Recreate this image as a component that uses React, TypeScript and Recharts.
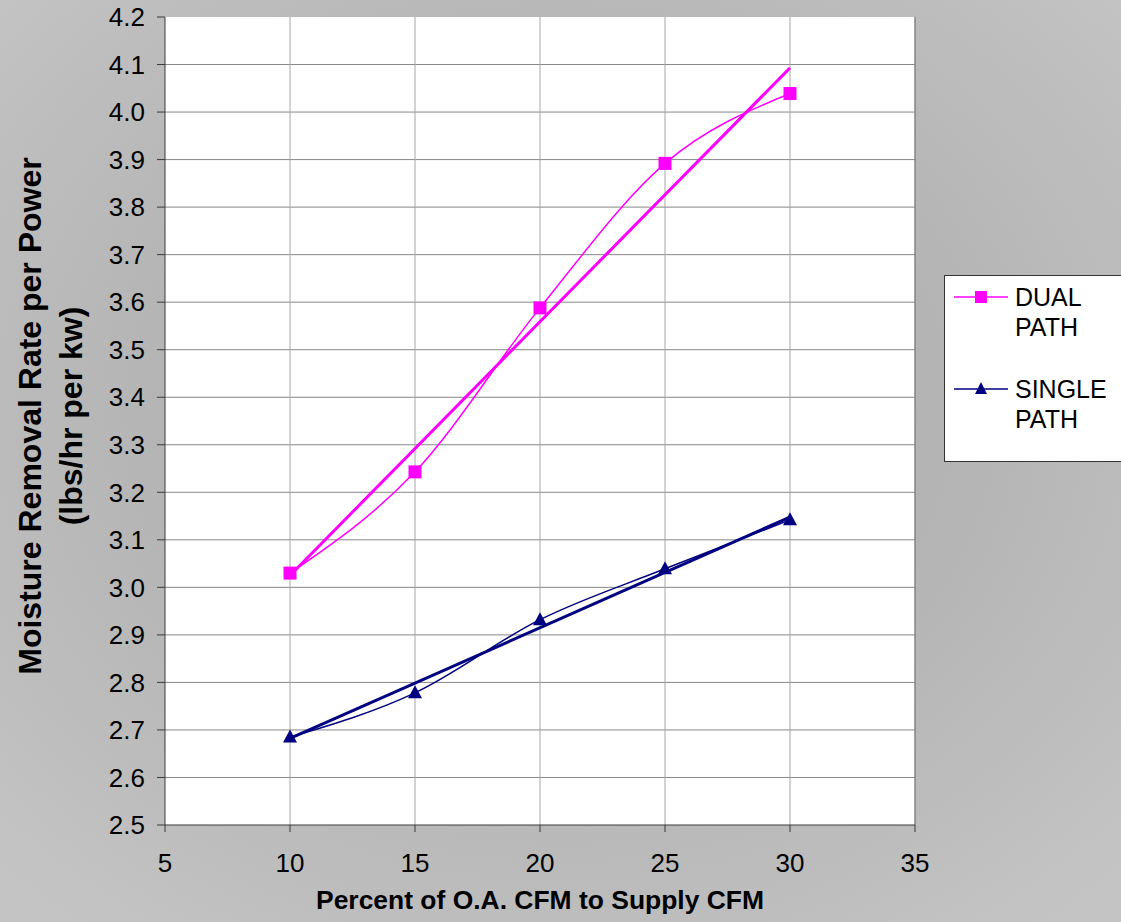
import React from "react";
import {
  LineChart,
  Line,
  XAxis,
  YAxis,
  CartesianGrid,
  ReferenceLine,
  Label,
} from "recharts";

// values
const percentOA = [10, 15, 20, 25, 30];
const dualPath = [3.03, 3.243, 3.588, 3.892, 4.039];
const singlePath = [2.685, 2.778, 2.932, 3.039, 3.142];

// linear trendline end points (x = 10 and x = 30)
const trendX = [10, 30];
const dualTrend = [3.025, 4.093];
const singleTrend = [2.682, 3.148];

const xTicks = [5, 10, 15, 20, 25, 30, 35];
const yTicks = [
  2.5, 2.6, 2.7, 2.8, 2.9, 3.0, 3.1, 3.2, 3.3, 3.4, 3.5, 3.6, 3.7, 3.8, 3.9,
  4.0, 4.1, 4.2,
];
const innerYTicks = yTicks.slice(1, -1);
const innerXTicks = xTicks.slice(1, -1);

const seriesNames = ["DUAL PATH", "SINGLE PATH"];

const MAGENTA = "#FF00FF";
const NAVY = "#000080";
const FONT = "'Liberation Sans', Arial, sans-serif";

const dualData = percentOA.map((x, i) => ({ x, y: dualPath[i] }));
const singleData = percentOA.map((x, i) => ({ x, y: singlePath[i] }));
const dualTrendData = trendX.map((x, i) => ({ x, y: dualTrend[i] }));
const singleTrendData = trendX.map((x, i) => ({ x, y: singleTrend[i] }));

const SquareDot = (props: any) => {
  const { cx, cy, index } = props;
  return (
    <rect key={`sq-${index}`} x={cx - 6.5} y={cy - 6.5} width={13} height={13} fill={MAGENTA} />
  );
};

const TriangleDot = (props: any) => {
  const { cx, cy, index } = props;
  return (
    <path
      key={`tr-${index}`}
      d={`M${cx},${cy - 7.5} L${cx + 7},${cy + 5.5} L${cx - 7},${cy + 5.5} Z`}
      fill={NAVY}
    />
  );
};

const YTitle = (props: any) => {
  const cy = 416;
  return (
    <g>
      <text
        x={30}
        y={cy}
        transform={`rotate(-90 30 ${cy})`}
        textAnchor="middle"
        dominantBaseline="central"
        fontFamily={FONT}
        fontWeight="bold"
        fontSize={32}
        fill="#000"
      >
        Moisture Removal Rate per Power
      </text>
      <text
        x={71}
        y={cy}
        transform={`rotate(-90 71 ${cy})`}
        textAnchor="middle"
        dominantBaseline="central"
        fontFamily={FONT}
        fontWeight="bold"
        fontSize={32}
        fill="#000"
      >
        (lbs/hr per kw)
      </text>
    </g>
  );
};

const XTitle = () => (
  <text
    x={540}
    y={909}
    textAnchor="middle"
    fontFamily={FONT}
    fontWeight="bold"
    fontSize={26}
    textLength={448}
    lengthAdjust="spacingAndGlyphs"
    fill="#000"
  >
    Percent of O.A. CFM to Supply CFM
  </text>
);

const LegendBox = () => (
  <div
    style={{
      position: "absolute",
      left: 944,
      top: 275,
      width: 190,
      height: 187,
      background: "#fff",
      border: "1px solid #333",
      boxSizing: "border-box",
    }}
  >
    <svg width={190} height={187} style={{ display: "block" }}>
      {seriesNames.map((name, i) => {
        const top = i * 92;
        const color = i === 0 ? MAGENTA : NAVY;
        const words = name.split(" ");
        return (
          <g key={name}>
            <line x1={9} x2={63} y1={top + 21} y2={top + 21} stroke={color} strokeWidth={1.5} />
            {i === 0 ? (
              <rect x={30} y={top + 15} width={12} height={12} fill={MAGENTA} />
            ) : (
              <path d={`M36,${top + 14} L42,${top + 26} L30,${top + 26} Z`} fill={NAVY} />
            )}
            {words.map((w, j) => (
              <text
                key={w}
                x={70}
                y={top + 30 + j * 30}
                fontFamily={FONT}
                fontSize={25}
                fill="#000"
              >
                {w}
              </text>
            ))}
          </g>
        );
      })}
    </svg>
  </div>
);

export default function App() {
  return (
    <div
      style={{
        position: "relative",
        width: 1121,
        height: 922,
        overflow: "hidden",
        background:
          "radial-gradient(ellipse 70% 70% at 50% 45%, #a9a9a9 0%, #b4b4b4 50%, #c4c4c4 100%)",
      }}
    >
      <style>{`body{margin:0}`}</style>
      <LineChart
        width={1121}
        height={922}
        margin={{ top: 17, right: 206, left: 65, bottom: 37 }}
      >
        <CartesianGrid
          fill="#fff"
          stroke="#878787"
          vertical={false}
          horizontalValues={innerYTicks}
        />
        <CartesianGrid
          stroke="#a6a6a6"
          horizontal={false}
          verticalValues={innerXTicks}
        />
        <ReferenceLine x={35} stroke="#858585" strokeWidth={1.5} />
        <XAxis
          type="number"
          dataKey="x"
          domain={[5, 35]}
          ticks={xTicks}
          allowDuplicatedCategory={false}
          height={60}
          tickSize={7}
          tickMargin={22}
          stroke="#3a3a3a"
          tick={{ fill: "#000", fontSize: 26, fontFamily: FONT }}
        >
          <Label content={<XTitle />} />
        </XAxis>
        <YAxis
          type="number"
          dataKey="y"
          domain={[2.5, 4.2]}
          ticks={yTicks}
          width={100}
          tickSize={8}
          tickMargin={12}
          stroke="#3a3a3a"
          interval={0}
          tickFormatter={(v: number) => v.toFixed(1)}
          tick={{ fill: "#000", fontSize: 26, fontFamily: FONT }}
        >
          <Label content={<YTitle />} />
        </YAxis>
        <Line
          data={dualTrendData}
          dataKey="y"
          type="linear"
          stroke={MAGENTA}
          strokeWidth={3}
          dot={false}
          isAnimationActive={false}
        />
        <Line
          data={singleTrendData}
          dataKey="y"
          type="linear"
          stroke={NAVY}
          strokeWidth={3}
          dot={false}
          isAnimationActive={false}
        />
        <Line
          data={dualData}
          dataKey="y"
          name={seriesNames[0]}
          type="monotone"
          stroke={MAGENTA}
          strokeWidth={1.5}
          dot={SquareDot}
          isAnimationActive={false}
        />
        <Line
          data={singleData}
          dataKey="y"
          name={seriesNames[1]}
          type="monotone"
          stroke={NAVY}
          strokeWidth={1.5}
          dot={TriangleDot}
          isAnimationActive={false}
        />
      </LineChart>
      <LegendBox />
    </div>
  );
}
